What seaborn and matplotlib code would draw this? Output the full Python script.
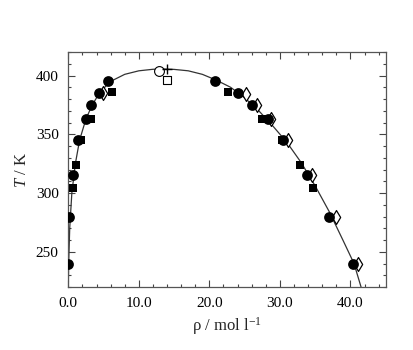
import numpy as np
import pandas as pd
import matplotlib
matplotlib.use("Agg")
import matplotlib.pyplot as plt
import seaborn as sns
from matplotlib.ticker import MultipleLocator, FormatStrFormatter

# Data (rho in mol/l, T in K)
circle_rho = [0.0, 0.1, 0.7, 1.4, 2.5, 3.2, 4.3, 5.6,
              20.8, 24.0, 26.1, 28.3, 30.4, 33.8, 37.0, 40.3]
circle_T = [240, 280, 315, 345, 363, 375, 385, 395,
            395, 385, 375, 363, 345, 315, 280, 240]

square_rho = [0.15, 0.6, 1.1, 1.75, 3.2, 6.15,
              22.6, 27.5, 30.3, 32.9, 34.75]
square_T = [280, 304, 324, 345, 363, 386,
            386, 363, 345, 324, 304]

diamond_rho = [4.9, 25.2, 26.8, 28.8, 31.1, 34.5, 38.0, 41.0]
diamond_T = [385, 384, 375, 363, 345, 315, 280, 240]

crit_open_circle = ([12.9], [404])
crit_plus = ([13.95], [405.5])
crit_open_square = ([14.0], [396])

curve_rho = [0.0, 0.05, 0.2, 0.5, 1.0, 1.6, 2.5, 3.4, 4.5, 6.0, 8.0, 10.0,
             12.0, 13.5, 15.0, 17.0, 19.0, 21.0, 23.0, 25.0, 27.0, 29.0,
             31.0, 33.0, 35.0, 37.0, 39.0, 40.5, 41.5]
curve_T = [220, 240, 270, 300, 325, 345, 363, 375, 386, 395, 401, 404,
           405.3, 405.5, 405.2, 404, 401, 396, 390, 381, 370, 357,
           343, 326, 306, 284, 259, 240, 220]

sns.set_style("ticks")
plt.rcParams["font.family"] = ["Liberation Serif", "DejaVu Serif"]
plt.rcParams["mathtext.fontset"] = "custom"
plt.rcParams["mathtext.rm"] = "Liberation Serif"
plt.rcParams["mathtext.it"] = "Liberation Serif:italic"

fig = plt.figure(figsize=(4.13, 3.5), dpi=100)
ax = fig.add_axes([0.1654, 0.18, 0.7686, 0.6714])

curve = pd.DataFrame({"rho": curve_rho, "T": curve_T})
sns.lineplot(data=curve, x="rho", y="T", sort=False, color="#333333",
             linewidth=0.9, ax=ax)

# open thin diamonds sit behind the filled circles
sns.scatterplot(x=diamond_rho, y=diamond_T, marker="d", s=50, color="white",
                edgecolor="black", linewidth=0.9, ax=ax, zorder=3)
sns.scatterplot(x=circle_rho, y=circle_T, marker="o", s=60, color="black",
                edgecolor="black", linewidth=0, ax=ax, zorder=4)
sns.scatterplot(x=square_rho, y=square_T, marker="s", s=30, color="black",
                edgecolor="black", linewidth=0, ax=ax, zorder=5)
sns.scatterplot(x=crit_open_circle[0], y=crit_open_circle[1], marker="o", s=50,
                color="white", edgecolor="black", linewidth=0.8, ax=ax, zorder=5)
sns.scatterplot(x=crit_open_square[0], y=crit_open_square[1], marker="s", s=30,
                color="white", edgecolor="black", linewidth=0.8, ax=ax, zorder=5)
ax.scatter(crit_plus[0], crit_plus[1], marker="+", s=45, color="black",
           linewidths=1.0, zorder=6)

ax.set_xlim(0, 45)
ax.set_ylim(220, 420)
ax.xaxis.set_major_locator(MultipleLocator(10))
ax.xaxis.set_minor_locator(MultipleLocator(2))
ax.yaxis.set_major_locator(MultipleLocator(50))
ax.yaxis.set_minor_locator(MultipleLocator(10))
ax.xaxis.set_major_formatter(FormatStrFormatter("%.1f"))
ax.yaxis.set_major_formatter(FormatStrFormatter("%d"))
ax.tick_params(which="both", direction="in", top=True, right=True,
               colors="#444444", labelcolor="black", labelsize=11, width=0.8)
ax.tick_params(which="major", length=5, pad=7)
ax.tick_params(which="minor", length=2.5)
for sp in ax.spines.values():
    sp.set_visible(True)
    sp.set_color("#555555")
    sp.set_linewidth(0.9)

ax.set_xlabel("ρ / mol l$^{\\mathrm{-1}}$", fontsize=12, labelpad=4)
ax.set_ylabel(r"$T$ / K", fontsize=12, labelpad=4)

fig.savefig("out.png", dpi=100)
